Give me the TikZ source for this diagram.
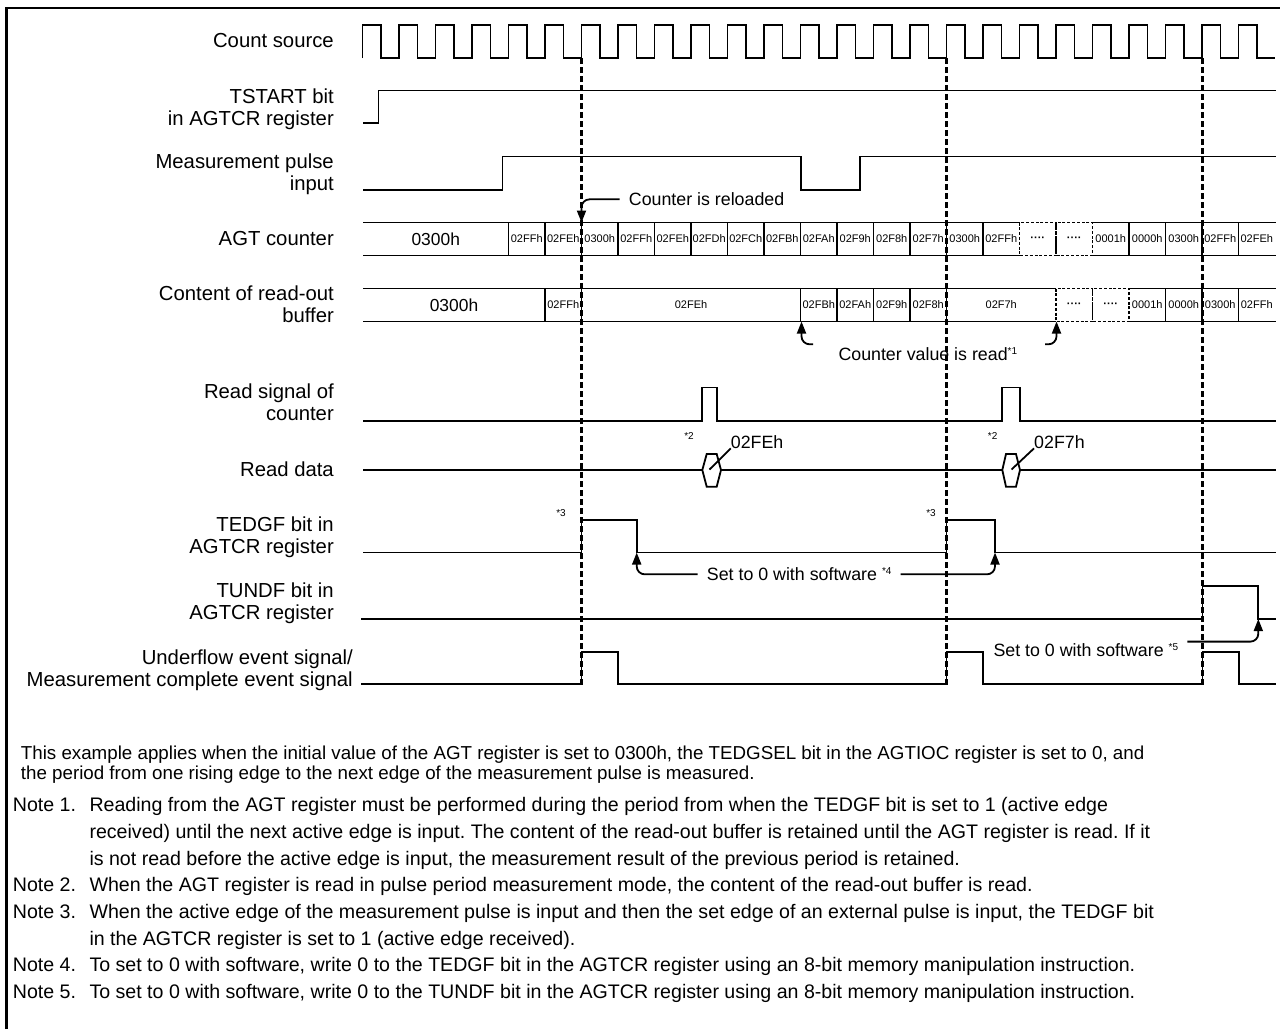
\documentclass[tikz,border=0pt]{standalone}
\usepackage{fontspec}
\setmainfont{Liberation Sans}
\usetikzlibrary{arrows.meta}
\newcommand\fnmark[1]{\raisebox{6pt}{\fontsize{10}{10}\selectfont *#1}}
\def\clkx{362.5}
\def\clkp{36.5}
\frenchspacing
\begin{document}
\begin{tikzpicture}[x=1pt,y=-1pt,
    sig/.style={line width=1.8pt},
    clk/.style={line width=1.5pt},
    cursor/.style={dash pattern=on 6pt off 3pt, line width=2.4pt},
    dotbox/.style={dash pattern=on 3pt off 1.8pt, line width=1.8pt},
    arr/.style={-{Triangle[length=12pt,width=9pt]}, line width=1.8pt, rounded corners=8pt},
    lbl/.style={font=\fontsize{20.3}{22}\selectfont, align=right, anchor=north east, inner sep=0pt},
    cell/.style={font=\fontsize{11}{12}\selectfont, inner sep=0pt},
    big/.style={font=\fontsize{17.4}{20}\selectfont, inner sep=0pt},
    ann/.style={font=\fontsize{17.8}{20}\selectfont, inner xsep=9pt, inner ysep=0pt, anchor=base west},
    fn/.style={font=\fontsize{10}{10}\selectfont, inner sep=0pt},
    intro/.style={font=\fontsize{18.75}{20}\selectfont, align=left, anchor=north west, inner sep=0pt},
    note/.style={font=\fontsize{19.6}{26.65}\selectfont, align=left, anchor=north west, inner sep=0pt},
    notenum/.style={font=\fontsize{19.6}{26.65}\selectfont, anchor=base west, inner sep=0pt}]
\useasboundingbox (0,0) rectangle (1280,1029);
% Frame
\draw[line width=2.6pt] (6.5,1029) -- (6.5,8) -- (1280,8);

% Labels
\node[lbl] (lcs) at (334,33.4) {Count source};
\node[lbl] (lts) at (334,88.8) {TSTART bit\\in AGTCR register};
\node[lbl] (lmp) at (334,154) {Measurement pulse\\input};
\node[lbl] (lag) at (334,231.6) {AGT counter};
\node[lbl] (lbf) at (334,285.2) {Content of read-out\\buffer};
\node[lbl] (lrs) at (334,383.2) {Read signal of\\counter};
\node[lbl] (lrd) at (334,462) {Read data};
\node[lbl] (lte) at (334,516.2) {TEDGF bit in\\AGTCR register};
\node[lbl] (ltu) at (334,582.2) {TUNDF bit in\\AGTCR register};
\node[lbl] (luf) at (353,649.2) {Underflow event signal/\\Measurement complete event signal};

% Count source
\draw[clk] (\clkx,58) \foreach \k in {0,...,24}{ -- ++(0,-33) -- ++(18.25,0) -- ++(0,33) -- ++(18.25,0)};
% TSTART, measurement pulse
\draw[sig] (363,123) -- (378.5,123) -- (378.5,90.5) -- (1276,90.5);
\draw[sig] (363,190) -- (502.5,190) -- (502.5,156.5) -- (801,156.5) -- (801,190) -- (860,190) -- (860,156.5) -- (1276,156.5);

% AGT counter
\draw[sig] (363,222.5) -- ({\clkx+18*\clkp},222.5) ({\clkx+20*\clkp},222.5) -- (1276,222.5);
\draw[sig] (363,255.5) -- ({\clkx+18*\clkp},255.5) ({\clkx+20*\clkp},255.5) -- (1276,255.5);
\foreach \k in {4,...,17,21,22,23,24}
  \draw[sig] ({\clkx+\k*\clkp},222.5) -- ++(0,33);
\draw[dotbox] ({\clkx+18*\clkp},222.5) rectangle ({\clkx+19*\clkp},255.5);
\draw[dotbox] ({\clkx+19*\clkp},222.5) rectangle ({\clkx+20*\clkp},255.5);
\node[big] (c0) at (435.75,239) {0300h};
\foreach \k/\v in {4/02FFh,5/02FEh,6/0300h,7/02FFh,8/02FEh,9/02FDh,10/02FCh,11/02FBh,12/02FAh,13/02F9h,14/02F8h,15/02F7h,16/0300h,17/02FFh,20/0001h,21/0000h,22/0300h,23/02FFh,24/02FEh}
  \node[cell] (c\k) at ({\clkx+(\k+0.5)*\clkp},239) {\v};
\foreach \k in {18,19}
  \node[cell,font=\fontsize{11}{12}\selectfont\bfseries] (c\k) at ({\clkx+(\k+0.5)*\clkp},239) {····};

% Read-out buffer
\draw[sig] (363,288.5) -- ({\clkx+19*\clkp},288.5) ({\clkx+21*\clkp},288.5) -- (1276,288.5);
\draw[sig] (363,321.5) -- ({\clkx+19*\clkp},321.5) ({\clkx+21*\clkp},321.5) -- (1276,321.5);
\foreach \k in {5,6,12,13,14,15,16,22,23,24}
  \draw[sig] ({\clkx+\k*\clkp},288.5) -- ++(0,33);
\draw[dotbox] ({\clkx+19*\clkp},288.5) rectangle ({\clkx+20*\clkp},321.5);
\draw[dotbox] ({\clkx+20*\clkp},288.5) rectangle ({\clkx+21*\clkp},321.5);
\node[big] (b0) at (454,305) {0300h};
\node[cell] (b6) at ({\clkx+9*\clkp},305) {02FEh};
\node[cell] (b16) at ({\clkx+17.5*\clkp},305) {02F7h};
\foreach \k/\v in {5/02FFh,12/02FBh,13/02FAh,14/02F9h,15/02F8h,21/0001h,22/0000h,23/0300h,24/02FFh}
  \node[cell] (b\k) at ({\clkx+(\k+0.5)*\clkp},305) {\v};
\foreach \k in {19,20}
  \node[cell,font=\fontsize{11}{12}\selectfont\bfseries] (b\k) at ({\clkx+(\k+0.5)*\clkp},305) {····};

% Read signal, read data
\draw[sig] (363,421) -- (702.3,421) -- (702.3,387.5) -- (717.3,387.5) -- (717.3,421) -- (1001.7,421) -- (1001.7,387.5) -- (1020,387.5) -- (1020,421) -- (1276,421);
\draw[sig] (363,470) -- (702.3,470) (721,470) -- (1002.3,470) (1020,470) -- (1276,470);
\draw[sig] (702.3,470) -- (706.7,454) -- (716.7,454) -- (721,470) -- (716.7,486.7) -- (706.7,486.7) -- cycle;
\draw[sig] (1002.3,470) -- (1006,454) -- (1016,454) -- (1020,470) -- (1016,486.7) -- (1006,486.7) -- cycle;
\coordinate (hxA) at (709.5,469.5);
\coordinate (hxB) at (1011.5,469.5);
\node[font=\fontsize{17.8}{20}\selectfont, inner sep=0pt, anchor=base west] (rdA) at (730.7,448) {02FEh};
\node[font=\fontsize{17.8}{20}\selectfont, inner sep=0pt, anchor=base west] (rdB) at (1034,448) {02F7h};
\draw[sig] (hxA) -- (rdA.south west);
\draw[sig] (hxB) -- (rdB.south west);
\node[fn] (fA) at (689,436) {*2};
\node[fn] (fB) at (992.7,436) {*2};

% TEDGF, TUNDF, underflow
\draw[sig] (363,552.5) -- (581.5,552.5) -- (581.5,520) -- (636.7,520) -- (636.7,552.5) -- (946.5,552.5) -- (946.5,520) -- (995,520) -- (995,552.5) -- (1276,552.5);
\node[fn] (fC) at (561,513.3) {*3};
\node[fn] (fD) at (931,513.3) {*3};
\draw[sig] (361,619) -- (1202.5,619) -- (1202.5,585.7) -- (1258.3,585.7) -- (1258.3,619) -- (1276,619);
\draw[sig] (361,684.3) -- (581.5,684.3) -- (581.5,651.7) -- (618.3,651.7) -- (618.3,684.3) -- (946.5,684.3) -- (946.5,651.7) -- (983.3,651.7) -- (983.3,684.3) -- (1202.5,684.3) -- (1202.5,651.7) -- (1239.3,651.7) -- (1239.3,684.3) -- (1276,684.3);

% Cursors
\foreach \x in {581.5,946.5,1202.5}
  \draw[cursor] (\x,58) -- (\x,685);

% Annotations
\coordinate (rlA) at (581.5,222.5);
\node[ann] (rl) at (619.7,205.7) {Counter is reloaded};
\draw[arr] (rl.west) -| (rlA);

\node[ann] (cv) at (829.3,360) {Counter value is read\fnmark{1}};
\coordinate (hkA) at (813,344.3);
\coordinate (hkB) at (1045,344.3);
\coordinate (bfA) at (801.5,321.5);
\coordinate (bfB) at (1056.5,321.5);
\draw[arr] (hkA) -| (bfA);
\draw[arr] (hkB) -| (bfB);

\node[ann] (sw4) at (697.7,580.7) {Set to 0 with software \fnmark{4}};
\coordinate (tgA) at (636.7,552.5);
\coordinate (tgB) at (995,552.5);
\draw[arr] (sw4.west) -| (tgA);
\draw[arr] (sw4.east) -| (tgB);

\node[ann] (sw5) at (984.3,656) {Set to 0 with software \fnmark{5}};
\coordinate (tuA) at (1258.3,619);
\draw[arr] ([yshift=8pt]sw5.east) -| (tuA);

% Notes
\node[intro] (intro) at (20.7,745.7) {This example applies when the initial value of the AGT register is set to 0300h, the TEDGSEL bit in the AGTIOC register is set to 0, and\\the period from one rising edge to the next edge of the measurement pulse is measured.};
\node[notenum] (k1) at (12.7,811.7) {Note 1.};
\node[note] (n1) at (89.3,797.4) {Reading from the AGT register must be performed during the period from when the TEDGF bit is set to 1 (active edge\\received) until the next active edge is input. The content of the read-out buffer is retained until the AGT register is read. If it\\is not read before the active edge is input, the measurement result of the previous period is retained.};
\node[notenum] (k2) at (12.7,891.65) {Note 2.};
\node[note] (n2) at (89.3,877.35) {When the AGT register is read in pulse period measurement mode, the content of the read-out buffer is read.};
\node[notenum] (k3) at (12.7,918.3) {Note 3.};
\node[note] (n3) at (89.3,904) {When the active edge of the measurement pulse is input and then the set edge of an external pulse is input, the TEDGF bit\\in the AGTCR register is set to 1 (active edge received).};
\node[notenum] (k4) at (12.7,971.6) {Note 4.};
\node[note] (n4) at (89.3,957.3) {To set to 0 with software, write 0 to the TEDGF bit in the AGTCR register using an 8-bit memory manipulation instruction.};
\node[notenum] (k5) at (12.7,998.3) {Note 5.};
\node[note] (n5) at (89.3,984) {To set to 0 with software, write 0 to the TUNDF bit in the AGTCR register using an 8-bit memory manipulation instruction.};
\end{tikzpicture}
\end{document}
